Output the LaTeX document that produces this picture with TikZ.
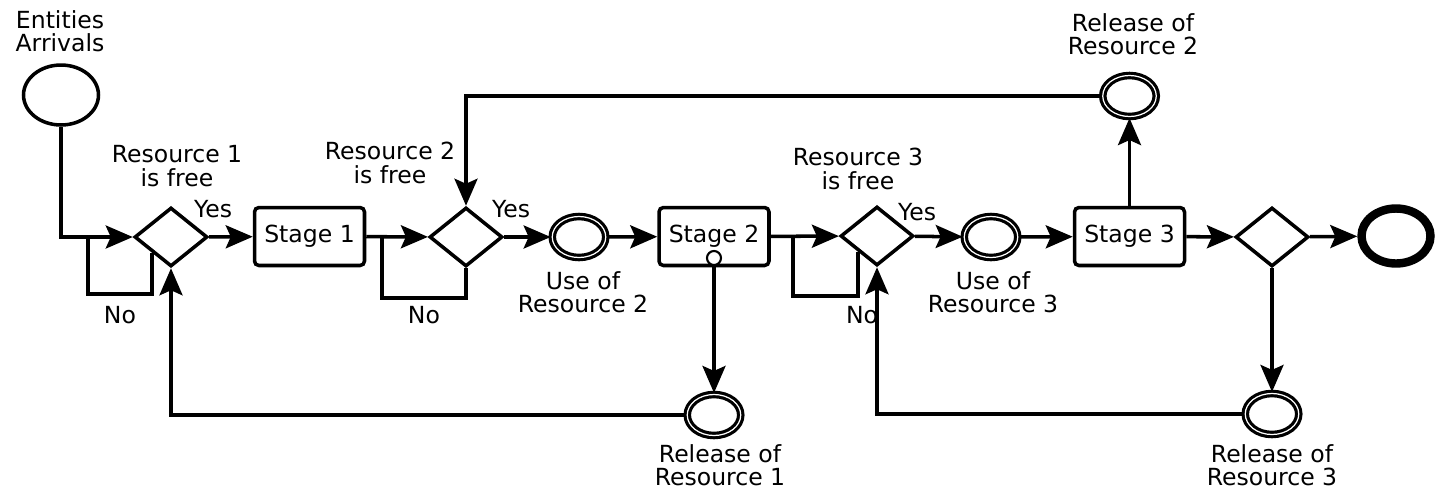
\documentclass[tikz,border=0pt]{standalone}
\usepackage{fontspec}
\usepackage{xcolor}
\newfontfamily\diagfont{DejaVu Sans}
\newcommand\lblfont{\diagfont\fontsize{13.4pt}{13.4pt}\selectfont}
\usetikzlibrary{shapes.geometric,arrows.meta}

\begin{document}
\begin{tikzpicture}[x=0.02cm,y=-0.02cm,
  line/.style={line width=2pt},
  flow/.style={line,-{Stealth[length=0.54cm,width=0.46cm,inset=0.1cm]}},
  txt/.style={font=\lblfont,align=center},
  start/.style={ellipse,draw,line width=2pt,minimum width=1.5cm,minimum height=1.2cm,inner sep=0},
  finish/.style={ellipse,draw,line width=4.8pt,minimum width=1.38cm,minimum height=1.1cm,inner sep=0},
  event/.style={ellipse,draw,line width=1.8pt,double,double distance=0.7pt,minimum width=1.07cm,minimum height=0.82cm,inner sep=0},
  gate/.style={diamond,draw,line width=2pt,minimum width=1.46cm,minimum height=1.18cm,inner sep=0},
  stagebox/.style={rectangle,draw,rounded corners=2.5pt,line width=2pt,minimum width=2.2cm,minimum height=1.16cm,font=\lblfont}]
\useasboundingbox (0,0) rectangle (1446,491);
\node[start] (arr) at (61,95) {};
\node[gate] (d1) at (171,237) {};
\node[stagebox] (st1) at (309.5,236.5) {Stage 1};
\node[gate] (d2) at (466,237) {};
\node[event] (use2) at (579,237) {};
\node[stagebox] (st2) at (714,236.5) {Stage 2};
\node[circle,draw,line width=1.2pt,fill=white,minimum size=0.28cm,inner sep=0] (dot2) at (714,258) {};
\node[gate] (d3) at (877,236) {};
\node[event] (use3) at (991,237) {};
\node[stagebox] (st3) at (1129.5,236.5) {Stage 3};
\node[gate] (d4) at (1272,237) {};
\node[finish] (fin) at (1396,236) {};
\node[event] (rel1) at (714,415) {};
\node[event] (rel2) at (1129.5,96) {};
\node[event] (rel3) at (1272,414) {};

\draw[flow] (arr) |- (d1);\draw[flow] (d1) -- (st1);\draw[flow] (st1) -- (d2);\draw[flow] (d2) -- (use2);
\draw[flow] (use2) -- (st2);\draw[flow] (st2) -- (d3);\draw[flow] (d3) -- (use3);\draw[flow] (use3) -- (st3);
\draw[flow] (st3) -- (d4);\draw[flow] (d4) -- (fin);
\draw[flow] (dot2) -- (rel1);\draw[flow] (st3) -- (rel2);\draw[flow] (d4) -- (rel3);
\draw[flow] (rel1) -| (d1);\draw[flow] (rel2) -| (d2);\draw[flow] (rel3) -| (d3);
\coordinate (n1) at (88,237);\coordinate (n2) at (382,237);\coordinate (n3) at (793,237);
\draw[line] (n1) -- ++(0,57) -| (d1.south west);
\draw[line] (n2) -- ++(0,61) -| (d2.south);
\draw[line] (n3) -- ++(0,59) -| (d3.south west);

\node[txt] at (60,31) {Entities\\Arrivals};
\node[txt] at (177,166) {Resource 1\\is free};\node[txt] at (213,209) {Yes};\node[txt] at (120,315) {No};
\node[txt] at (390,163) {Resource 2\\is free};\node[txt] at (511,209) {Yes};\node[txt] at (424,315) {No};
\node[txt] at (583,292) {Use of\\Resource 2};
\node[txt] at (858,169) {Resource 3\\is free};\node[txt] at (917,212) {Yes};\node[txt] at (862,315) {No};
\node[txt] at (993,292) {Use of\\Resource 3};
\node[txt] at (720,465) {Release of\\Resource 1};
\node[txt] at (1133,34) {Release of\\Resource 2};
\node[txt] at (1272,465) {Release of\\Resource 3};
\end{tikzpicture}
\end{document}
